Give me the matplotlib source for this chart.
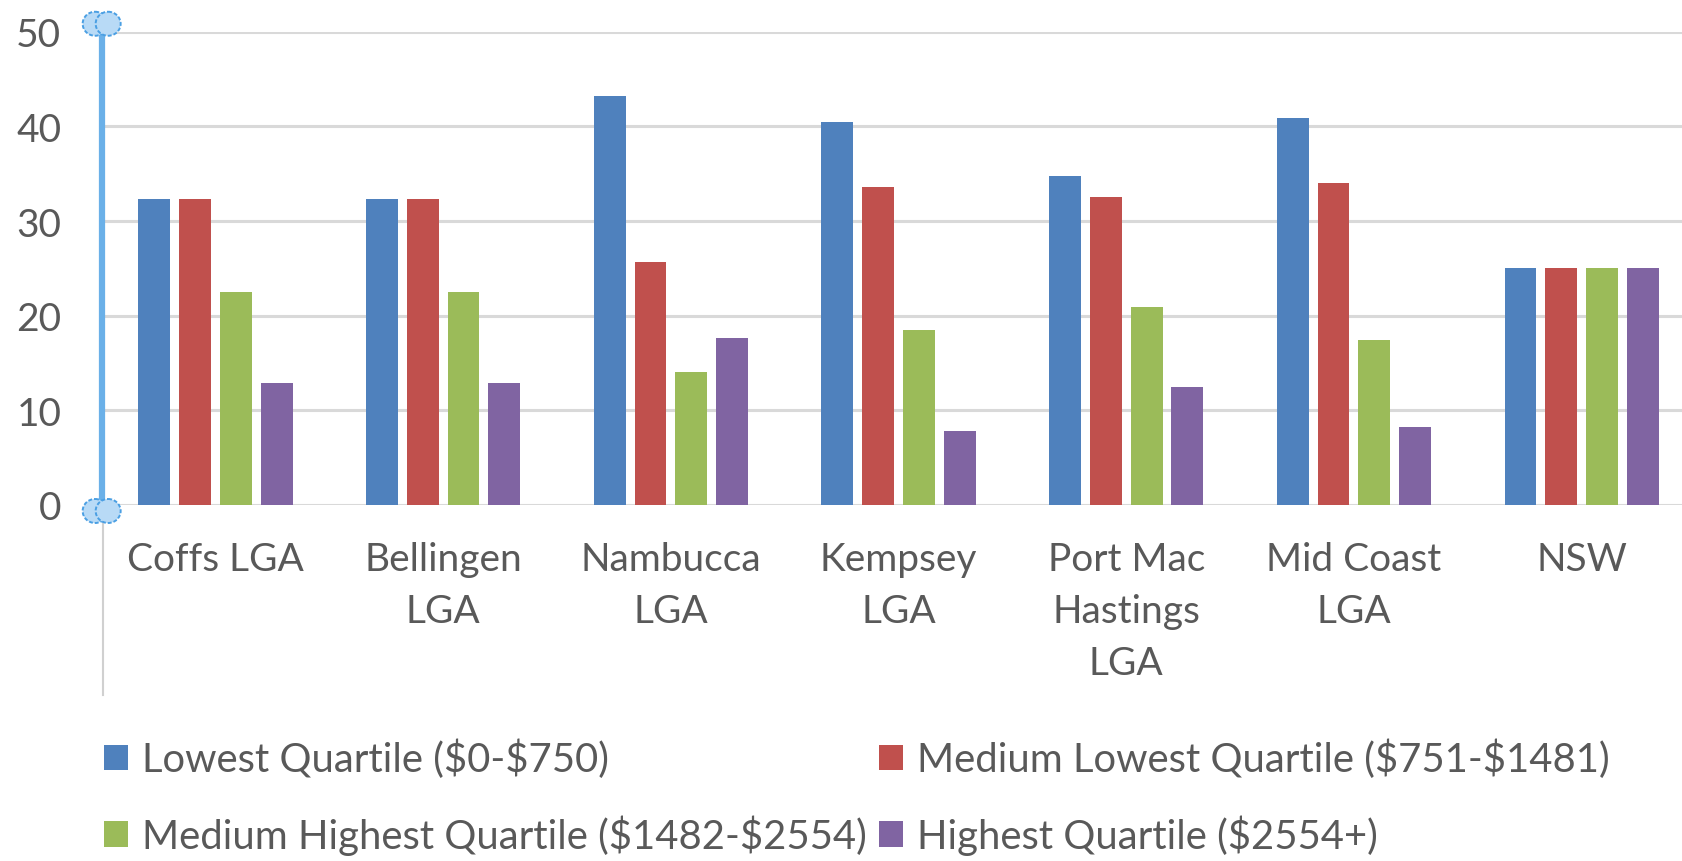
import numpy as np
import matplotlib.pyplot as plt
from matplotlib.patches import Ellipse

plt.rcParams['font.family'] = ['Lato', 'DejaVu Sans']

#-----------------Data--------------------------
regions = ['Coffs LGA', 'Bellingen\nLGA', 'Nambucca\nLGA', 'Kempsey\nLGA',
           'Port Mac\nHastings\nLGA', 'Mid Coast\nLGA', 'NSW']
lowest = [32.3, 32.3, 43.2, 40.5, 34.8, 40.9, 25.0]
med_lowest = [32.3, 32.3, 25.7, 33.6, 32.5, 34.0, 25.0]
med_highest = [22.5, 22.5, 14.1, 18.5, 20.9, 17.4, 25.0]
highest = [12.9, 12.9, 17.6, 7.8, 12.5, 8.2, 25.0]
series_names = [r'Lowest Quartile (\$0-\$750)',
                r'Medium Lowest Quartile (\$751-\$1481)',
                r'Medium Highest Quartile (\$1482-\$2554)',
                r'Highest Quartile (\$2554+)']
yticks = [0, 10, 20, 30, 40, 50]

#-----------------Style--------------------------
colors = ['#4F81BD', '#C0504D', '#9BBB59', '#8064A2']
text_col = '#595959'
grid_col = '#D9D9D9'
W, H = 1683, 862
LEFT, BOTTOM, WIDTH, HEIGHT = 0.0604, 0.413, 0.947, 0.549
FS = 28

fig = plt.figure(figsize=(W / 100, H / 100), dpi=100)
ax = fig.add_axes([LEFT, BOTTOM, WIDTH, HEIGHT])

x = np.arange(len(regions))
pitch, bw = 0.179, 0.14
series = [lowest, med_lowest, med_highest, highest]
bars = []
for i, vals in enumerate(series):
    b = ax.bar(x + (i - 1.5) * pitch, vals, width=bw, color=colors[i],
               label=series_names[i], zorder=3)
    bars.append(b)

ax.set_xlim(-0.5, len(regions) - 0.5)
ax.set_ylim(0, 50)
ax.set_yticks(yticks)
ax.set_xticks(x)
ax.set_xticklabels(regions, linespacing=1.55)
ax.tick_params(axis='y', length=0, pad=29, labelsize=FS, labelcolor=text_col)
ax.tick_params(axis='x', length=0, pad=26, labelsize=FS, labelcolor=text_col)
ax.grid(axis='y', color=grid_col, linewidth=2.2, zorder=0)
for s in ax.spines.values():
    s.set_visible(False)

# ------Legend (row-wise order: ncol=2 fills by column)----------------------
order = [0, 2, 1, 3]
fig.legend(handles=[bars[i] for i in order],
           labels=[series_names[i] for i in order], ncol=2, loc='upper left',
           bbox_to_anchor=(104 / W, 1 - 740 / H), frameon=False,
           fontsize=28.8, labelcolor=text_col, handlelength=0.6,
           handleheight=0.6, handletextpad=0.35, columnspacing=0.3,
           labelspacing=0.9, borderpad=0, borderaxespad=0)

# ------Selected value axis (handles + line)--------------------------------
ov = fig.add_axes([0, 0, 1, 1], zorder=5)
ov.set_xlim(0, W)
ov.set_ylim(H, 0)
ov.axis('off')
ax_x = LEFT * W
y_top = H * (1 - BOTTOM - HEIGHT)
y_bot = H * (1 - BOTTOM)
ov.plot([ax_x + 1.5, ax_x + 1.5], [y_bot, y_bot + 190], color='#D0D0D0', lw=1.5)
ov.plot([ax_x, ax_x], [y_top - 8, y_bot + 6], color='#6AB0E8', lw=4.5,
        solid_capstyle='butt')
for yy in (y_top - 8, y_bot + 6):
    for dx in (-6.5, 6.5):
        ov.add_patch(Ellipse((ax_x + dx, yy), 25, 24, facecolor='#B8DAF6',
                             edgecolor='#4A9FE3', lw=1.4, ls=(0, (2, 1)),
                             zorder=6))

plt.savefig('out.png', dpi=100)
